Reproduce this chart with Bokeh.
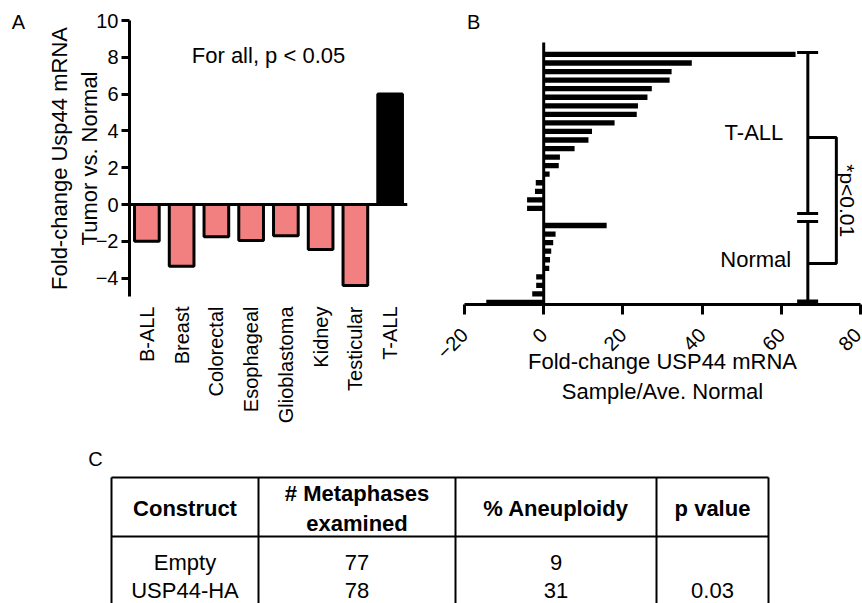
import math
from bokeh.plotting import figure
from bokeh.layouts import column, row
from bokeh.models import Range1d, FactorRange, Span, Label, FixedTicker
from bokeh.core.properties import value
from bokeh.embed import file_html
from bokeh.resources import INLINE

FONT = "Liberation Sans"

# ---------------- data ----------------
# Panel A: fold-change Usp44 mRNA, tumor vs normal
tumor_types = ["B-ALL", "Breast", "Colorectal", "Esophageal", "Glioblastoma",
               "Kidney", "Testicular", "T-ALL"]
fold_change_a = [-2.0, -3.35, -1.75, -1.95, -1.7, -2.45, -4.4, 6.0]
a_ticks = [-4, -2, 0, 2, 4, 6, 8, 10]

# Panel B: per-sample fold change (top to bottom within each group)
tall_fold = [63.6, 37.4, 32.3, 31.8, 27.3, 26.2, 23.8, 23.5, 17.9, 12.2,
             11.3, 7.8, 4.1, 3.8, 1.5, -2.0, -2.2, -4.2, -4.2]
normal_fold = [15.9, 3.0, 2.4, 1.9, 1.6, 1.4, -1.9, -1.9, -2.9, -14.5]
b_ticks = [-20, 0, 20, 40, 60, 80]

# Panel C: table
table_headers = ["Construct", "# Metaphases\nexamined", "% Aneuploidy", "p value"]
constructs = ["Empty", "USP44-HA"]
metaphases = ["77", "78"]
aneuploidy = ["9", "31"]
p_values = ["", "0.03"]

SALMON = "#F28080"
TOP_H = 426

def bare(p):
    p.grid.visible = False
    p.outline_line_color = None
    p.background_fill_color = None
    p.border_fill_color = "white"

# ---------------- strip holding the "A" letter ----------------
ps = figure(x_range=Range1d(0, 36), y_range=Range1d(TOP_H, 0), width=36, height=TOP_H,
            min_border=0, x_axis_type=None, y_axis_type=None, frame_align=False,
            output_backend="svg", toolbar_location=None)
bare(ps)
ps.add_layout(Label(x=18, y=21, text="A", text_align="center", text_baseline="middle",
                    text_font=FONT, text_font_size="20px", text_color="black"))

# ---------------- panel A ----------------
pa = figure(x_range=FactorRange(factors=tumor_types), y_range=Range1d(-5, 10),
            frame_width=278, frame_height=276, min_border_left=93, min_border_right=13,
            min_border_top=20, min_border_bottom=TOP_H - 296, frame_align=False,
            output_backend="svg", toolbar_location=None)
bare(pa)
colors_a = ["black" if t == "T-ALL" else SALMON for t in tumor_types]
pa.vbar(x=tumor_types, top=fold_change_a, bottom=0, width=0.71,
        fill_color=colors_a, line_color="black", line_width=3)
pa.add_layout(Span(location=0, dimension="width", line_color="black", line_width=3))

ya = pa.yaxis[0]
ya.ticker = FixedTicker(ticks=a_ticks)
ya.axis_line_width = 3
ya.major_tick_line_width = 3
ya.major_tick_out = 8
ya.major_tick_in = 0
ya.minor_tick_line_color = None
ya.major_label_text_font = FONT
ya.major_label_text_font_size = "20px"
ya.major_label_text_color = "black"
ya.major_label_standoff = 3
ya.axis_label = "Fold-change Usp44 mRNA\nTumor vs. Normal"
ya.axis_label_text_font = FONT
ya.axis_label_text_font_size = "22px"
ya.axis_label_text_font_style = "normal"
ya.axis_label_text_color = "black"
ya.axis_label_standoff = -9

xa = pa.xaxis[0]
xa.axis_line_color = None
xa.major_tick_line_color = None
xa.minor_tick_line_color = None
xa.major_label_orientation = math.pi / 2
xa.major_label_text_font = FONT
xa.major_label_text_font_size = "20px"
xa.major_label_text_color = "black"
xa.major_label_standoff = 4

pa.add_layout(Label(x=4.0, y=8.1, text="For all, p < 0.05", text_align="center",
                    text_baseline="middle", text_font=FONT, text_font_size="22px",
                    text_color="black"))

# ---------------- panel B ----------------
n_t = len(tall_fold)
n_n = len(normal_fold)
n_rows = n_t + 1 + n_n
y_tall = [n_rows - 1 - i for i in range(n_t)]
y_norm = [n_n - 1 - i for i in range(n_n)]

px_per_row = 8.553
y0 = -0.234
pb = figure(x_range=Range1d(-20, 80), y_range=Range1d(y0, y0 + 296 / px_per_row),
            frame_width=396, frame_height=296, min_border_left=44, min_border_right=2,
            min_border_top=8, min_border_bottom=TOP_H - 304, frame_align=False,
            output_backend="svg", toolbar_location=None)
bare(pb)
pb.yaxis.visible = False
pb.hbar(y=y_tall + y_norm, right=tall_fold + normal_fold, left=0, height=0.62,
        fill_color="black", line_color=None)
axis_top = 30.4
pb.segment(x0=[0], y0=[y0], x1=[0], y1=[axis_top], line_color="black", line_width=3)

xb = pb.xaxis[0]
xb.ticker = FixedTicker(ticks=b_ticks)
xb.axis_line_width = 3
xb.major_tick_line_width = 3
xb.major_tick_out = 10
xb.major_tick_in = 0
xb.minor_tick_line_color = None
xb.major_label_orientation = math.pi / 4
xb.major_label_text_font = FONT
xb.major_label_text_font_size = "20px"
xb.major_label_text_color = "black"
xb.major_label_standoff = 17
xb.axis_label = "Fold-change USP44 mRNA\nSample/Ave. Normal"
xb.axis_label_text_font = FONT
xb.axis_label_text_font_size = "22px"
xb.axis_label_text_font_style = "normal"
xb.axis_label_text_color = "black"
xb.axis_label_standoff = -19

# group marker / bracket (annotation geometry)
vx = 66.7
cap0, cap1 = 64.0, 69.3
top_y, brk_hi, brk_lo = 29.24, 10.4, 9.47
pb.segment(x0=[vx, vx], y0=[top_y, brk_lo], x1=[vx, vx], y1=[brk_hi, y0],
           line_color="black", line_width=3)
pb.segment(x0=[cap0, cap0, cap0], y0=[top_y, brk_hi, brk_lo],
           x1=[cap1, cap1, cap1], y1=[top_y, brk_hi, brk_lo],
           line_color="black", line_width=3)
pb.segment(x0=[cap0], y0=[0.05], x1=[cap1], y1=[0.05], line_color="black", line_width=5)
bx_r = 73.9
pb.line(x=[vx, bx_r, bx_r, vx], y=[19.3, 19.3, 4.56, 4.56], line_color="black", line_width=3)

pb.add_layout(Label(x=60.5, y=19.9, text="T-ALL", text_align="right", text_baseline="middle",
                    text_font=FONT, text_font_size="22px", text_color="black"))
pb.add_layout(Label(x=62.5, y=5.0, text="Normal", text_align="right", text_baseline="middle",
                    text_font=FONT, text_font_size="22px", text_color="black"))
pb.add_layout(Label(x=76.8, y=11.9, text="*p<0.01", text_align="center", text_baseline="middle",
                    angle=-math.pi / 2, text_font=FONT, text_font_size="21px",
                    text_color="black"))
pb.add_layout(Label(x=-17.7, y=32.85, text="B", text_align="center", text_baseline="middle",
                    text_font=FONT, text_font_size="20px", text_color="black"))

# ---------------- panel C (table) ----------------
pc = figure(x_range=Range1d(0, 862), y_range=Range1d(603, TOP_H), width=862, height=603 - TOP_H,
            min_border=0, x_axis_type=None, y_axis_type=None, frame_align=False,
            output_backend="svg", toolbar_location=None)
bare(pc)

col_edges = [111, 258, 455, 656, 768]
t_top, t_head, t_bottom = 477, 536, 615
row_y = [562, 590]
head_y = 508

pc.segment(x0=[col_edges[0], col_edges[0]], y0=[t_top, t_head],
           x1=[col_edges[-1], col_edges[-1]], y1=[t_top, t_head],
           line_color="black", line_width=2)
pc.segment(x0=col_edges, y0=[t_top] * len(col_edges), x1=col_edges,
           y1=[t_bottom] * len(col_edges), line_color="black", line_width=2)

centers = [(col_edges[i] + col_edges[i + 1]) / 2 for i in range(len(col_edges) - 1)]
pc.text(x=centers, y=[head_y] * len(centers), text=table_headers, text_align="center",
        text_baseline="middle", text_font=value(FONT), text_font_size="22px",
        text_font_style="bold", text_color="black", text_line_height=1.2)

cells_x, cells_y, cells_t = [], [], []
for r in range(len(constructs)):
    for c, colvals in enumerate([constructs, metaphases, aneuploidy, p_values]):
        cells_x.append(centers[c])
        cells_y.append(row_y[r])
        cells_t.append(colvals[r])
pc.text(x=cells_x, y=cells_y, text=cells_t, text_align="center", text_baseline="middle",
        text_font=value(FONT), text_font_size="22px", text_color="black")

pc.add_layout(Label(x=95, y=458, text="C", text_align="center", text_baseline="middle",
                    text_font=FONT, text_font_size="20px", text_color="black"))

layout = column(row(ps, pa, pb), pc)
open("out.html", "w").write(file_html(layout, INLINE))
